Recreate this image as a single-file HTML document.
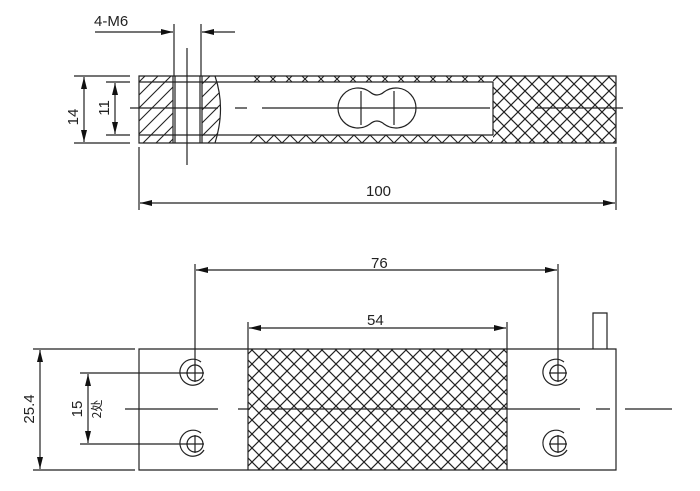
<!DOCTYPE html>
<html><head><meta charset="utf-8"><style>
html,body{margin:0;padding:0;background:#fff;}
svg{display:block;}
text{font-family:"Liberation Sans","Noto Sans CJK SC",sans-serif;fill:#222;}
</style></head><body>
<svg width="700" height="491" viewBox="0 0 700 491" xmlns="http://www.w3.org/2000/svg">
<defs>
<pattern id="cross" patternUnits="userSpaceOnUse" width="14" height="14">
<path d="M0,0 L14,14 M14,0 L0,14" stroke="#222" stroke-width="1.2" fill="none"/>
</pattern>
<pattern id="hatch" patternUnits="userSpaceOnUse" width="13" height="13">
<path d="M0,13 L13,0 M-3,3 L3,-3 M10,16 L16,10" stroke="#222" stroke-width="1.1" fill="none"/>
</pattern>
<pattern id="zz" patternUnits="userSpaceOnUse" width="16" height="8" x="250" y="135">
<path d="M0,8 L8,0 L16,8" stroke="#222" stroke-width="1.1" fill="none"/>
</pattern>
<pattern id="xx" patternUnits="userSpaceOnUse" width="16" height="6" x="250" y="76">
<path d="M4,0 L10,6 M10,0 L4,6" stroke="#222" stroke-width="1.1" fill="none"/>
</pattern>
<marker id="a" viewBox="0 0 12 6" refX="12" refY="3" markerWidth="12" markerHeight="6" orient="auto-start-reverse" markerUnits="userSpaceOnUse">
<path d="M0,0 L12,3 L0,6 z" fill="#111"/>
</marker>
</defs>
<g stroke="#222" stroke-width="1.2" fill="none">
<rect x="139" y="76" width="34" height="67" fill="url(#hatch)" stroke="none"/>
<path d="M202,76 L215,76 Q226,108 215,143 L202,143 Z" fill="url(#hatch)" stroke="none"/>
<path d="M215,76 Q226,108 215,143"/>
<rect x="250" y="76" width="243" height="6" fill="url(#xx)" stroke="none"/>
<rect x="250" y="135" width="243" height="8" fill="url(#zz)" stroke="none"/>
<rect x="493" y="76" width="123" height="67" fill="url(#cross)" stroke="none"/>
<path d="M139,76 H616 V143 H139 Z"/>
<path d="M139,82 H493 M139,135 H493 M493,82 V135"/>
<path d="M173,76 V143 M175,76 V143 M200,76 V143 M202,76 V143"/>
<path d="M174,24 V76 M201,24 V76"/>
<path d="M187,48 V165"/>
<path d="M130,108 H218 M235,108 H247 M262,108 H490 M535,108 H623"/>
<path d="M370,92 A20,20 0 1,0 370,124 Q377,118 384,124 A20,20 0 1,0 384,92 Q377,98 370,92 Z"/>
<path d="M361,91 V125 M394,91 V125"/>
<path d="M95,32 H173" marker-end="url(#a)"/>
<path d="M235,32 H202" marker-end="url(#a)"/>
<path d="M74,76 H130 M74,143 H130 M106,82 H130 M106,135 H130"/>
<path d="M84,77 V142" marker-start="url(#a)" marker-end="url(#a)"/>
<path d="M115,83 V134" marker-start="url(#a)" marker-end="url(#a)"/>
<path d="M139,147 V210 M616,147 V210"/>
<path d="M140,203 H615" marker-start="url(#a)" marker-end="url(#a)"/>
<rect x="248" y="349" width="259" height="121" fill="url(#cross)" stroke="none"/>
<path d="M139,349 H616 V470 H139 Z M248,349 V470 M507,349 V470"/>
<path d="M593,349 V313 H607 V349"/>
<path d="M125,409 H218 M238,409 H250 M264,409 H580 M596,409 H610 M625,409 H672"/>
<g id="h"><circle cx="195" cy="373" r="8"/><path d="M186,373 H204 M195,364 V382"/><path d="M204,379 A13,13 0 1,1 201,362"/></g>
<use href="#h" y="71"/>
<use href="#h" x="363"/>
<use href="#h" x="363" y="71"/>
<path d="M195,264 V365 M558,264 V365 M248,322 V349 M507,322 V349"/>
<path d="M196,270 H557" marker-start="url(#a)" marker-end="url(#a)"/>
<path d="M249,328 H506" marker-start="url(#a)" marker-end="url(#a)"/>
<path d="M33,349 H135 M33,470 H135 M80,373 H188 M80,444 H188"/>
<path d="M40,350 V469" marker-start="url(#a)" marker-end="url(#a)"/>
<path d="M88,374 V443" marker-start="url(#a)" marker-end="url(#a)"/>
</g>
<g font-size="15">
<text x="94" y="26">4-M6</text>
<text x="366" y="196">100</text>
<text x="371" y="268">76</text>
<text x="367" y="325">54</text>
<text transform="translate(78,117) rotate(-90)" text-anchor="middle">14</text>
<text transform="translate(109,108) rotate(-90)" text-anchor="middle">11</text>
<text transform="translate(34,409) rotate(-90)" text-anchor="middle">25.4</text>
<text transform="translate(82,409) rotate(-90)" text-anchor="middle">15</text>
<text transform="translate(101,409) rotate(-90)" text-anchor="middle" font-size="12" style="font-family:'Noto Sans CJK SC','WenQuanYi Zen Hei',sans-serif">2处</text>
</g>
</svg>
</body></html>
